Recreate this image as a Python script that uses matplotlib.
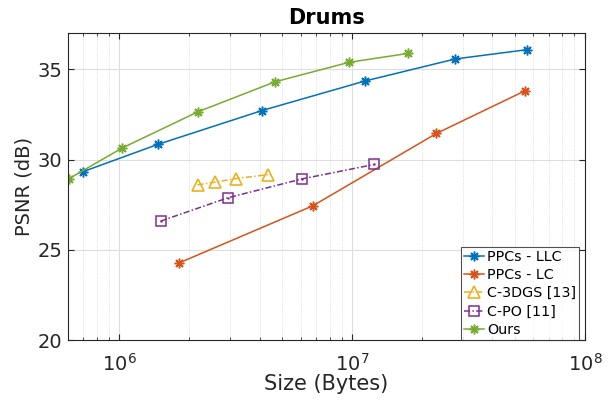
import matplotlib
matplotlib.use("Agg")
import matplotlib.pyplot as plt
from matplotlib.ticker import LogLocator, NullFormatter

# Data (size in bytes, PSNR in dB)
ours_x = [6.05e5, 1.027e6, 2.175e6, 4.68e6, 9.68e6, 1.745e7]
ours_y = [28.93, 30.64, 32.65, 34.32, 35.39, 35.89]
llc_x = [7.01e5, 1.46e6, 4.10e6, 1.137e7, 2.775e7, 5.61e7]
llc_y = [29.34, 30.84, 32.72, 34.36, 35.58, 36.09]
lc_x = [1.803e6, 6.78e6, 2.30e7, 5.54e7]
lc_y = [24.27, 27.44, 31.45, 33.82]
c3dgs_x = [2.166e6, 2.58e6, 3.17e6, 4.365e6]
c3dgs_y = [28.60, 28.75, 28.95, 29.17]
cpo_x = [1.503e6, 2.92e6, 6.09e6, 1.243e7]
cpo_y = [26.59, 27.88, 28.93, 29.73]

labels = ["PPCs - LLC", "PPCs - LC", "C-3DGS [13]", "C-PO [11]", "Ours"]
colors = ["#0072BD", "#D95319", "#EDB120", "#7E2F8E", "#77AC30"]

txt = "#262626"
plt.rcParams['font.family'] = ['DejaVu Sans']

fig = plt.figure(figsize=(6.09, 4.0), dpi=100)
ax = fig.add_axes([0.1112, 0.15, 0.8494, 0.7667])

ast = (8, 2, 0)
ax.plot(llc_x, llc_y, color=colors[0], lw=1.1, marker=ast, ms=7, mew=1.1, label=labels[0])
ax.plot(lc_x, lc_y, color=colors[1], lw=1.1, marker=ast, ms=7, mew=1.1, label=labels[1])
ax.plot(c3dgs_x, c3dgs_y, color=colors[2], lw=1.1, ls=(0, (4, 1.5, 1, 1.5)), marker='^', ms=8,
        mfc='none', mew=1.2, label=labels[2])
ax.plot(cpo_x, cpo_y, color=colors[3], lw=1.1, ls=(0, (4, 1.5, 1, 1.5)), marker='s', ms=6.5,
        mfc='none', mew=1.1, label=labels[3])
ax.plot(cpo_x, cpo_y, color=colors[3], lw=0, marker='.', ms=1.5)
ax.plot(ours_x, ours_y, color=colors[4], lw=1.1, marker=ast, ms=7, mew=1.1, label=labels[4])

ax.set_xscale('log')
ax.set_xlim(6e5, 1e8)
ax.set_ylim(20, 37)
ax.set_yticks([20, 25, 30, 35])
ax.xaxis.set_major_locator(LogLocator(base=10, numticks=10))
ax.xaxis.set_minor_locator(LogLocator(base=10, subs=range(2, 10), numticks=20))
ax.xaxis.set_minor_formatter(NullFormatter())

ax.grid(True, which='major', color='#dedede', lw=0.8, ls='-')
ax.grid(True, which='minor', axis='x', color='#d4d4d4', lw=0.6, ls=':')
ax.set_axisbelow(True)

ax.tick_params(which='both', direction='in', top=True, right=True, colors=txt,
               labelsize=14)
ax.tick_params(which='major', length=4, width=0.8)
ax.tick_params(axis='y', which='major', pad=4)
ax.tick_params(axis='x', which='major', pad=9)
ax.tick_params(which='minor', length=2.5, width=0.6)
for s in ax.spines.values():
    s.set_color(txt)
    s.set_linewidth(0.8)

ax.set_xlabel("Size (Bytes)", fontsize=15, color=txt, labelpad=0)
ax.set_ylabel("PSNR (dB)", fontsize=14, color=txt, labelpad=3)
ax.set_title("Drums", fontsize=15, fontweight='bold', color='black', pad=7)

leg = ax.legend(loc='lower right', fontsize=10.3, frameon=True, fancybox=False,
                bbox_to_anchor=(0.989, 0.001), borderaxespad=0.0,
                handlelength=1.4, handletextpad=0.25,
                labelspacing=0.3, borderpad=0.2)
leg.get_frame().set_edgecolor(txt)
leg.get_frame().set_linewidth(0.8)
for t in leg.get_texts():
    t.set_color('black')

fig.savefig("out.png", dpi=100)
